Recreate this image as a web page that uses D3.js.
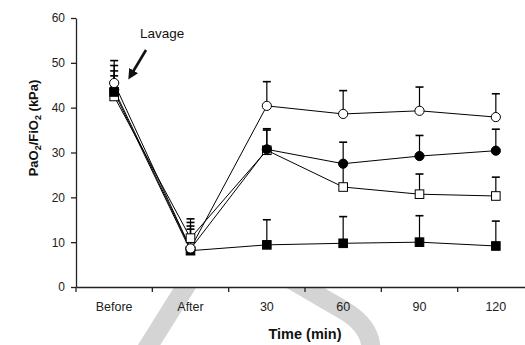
<!DOCTYPE html>
<html>
<head>
<meta charset="utf-8">
<script src="https://cdn.jsdelivr.net/npm/d3@7"></script>
<style>
  body { margin: 0; background: #fff; }
  svg { display: block; font-family: "Liberation Sans", Arial, sans-serif; }
  .axis path, .axis line { stroke: #222; stroke-width: 1.3; }
  .axis text { fill: #222; }
</style>
</head>
<body>
<div id="target"></div>
<script>
const width = 525;
const height = 345;
const margin = { top: 18, right: -9, bottom: 58, left: 76 };

// categories and values
const categories = ['Before', 'After', '30', '60', '90', '120'];
const yTicks = [0, 10, 20, 30, 40, 50, 60];

const openCircle = [45.5, 8.6, 40.4, 38.6, 39.3, 37.9];
const openCircleErr = [50.5, 14.4, 45.8, 43.8, 44.6, 43.1];
const filledCircle = [44.0, 8.5, 30.7, 27.5, 29.2, 30.4];
const filledCircleErr = [49.4, 13.6, 35.3, 32.3, 33.8, 35.2];
const openSquare = [42.5, 10.9, 30.5, 22.3, 20.7, 20.3];
const openSquareErr = [47.1, 15.2, 35.0, 27.4, 25.2, 24.5];
const filledSquare = [43.5, 8.1, 9.4, 9.75, 10.0, 9.15];
const filledSquareErr = [48.2, 12.9, 15.0, 15.7, 15.9, 14.7];

// draw order: bottom first
const series = [
  { name: 'openSquare', shape: 'square', fill: '#fff', values: openSquare, err: openSquareErr },
  { name: 'filledSquare', shape: 'square', fill: '#000', values: filledSquare, err: filledSquareErr },
  { name: 'filledCircle', shape: 'circle', fill: '#000', values: filledCircle, err: filledCircleErr },
  { name: 'openCircle', shape: 'circle', fill: '#fff', values: openCircle, err: openCircleErr }
];

const svg = d3.select('#target')
  .append('svg')
  .attr('width', width)
  .attr('height', height);

// faint watermark showing below the axis
const clip = svg.append('clipPath').attr('id', 'wm');
clip.append('rect').attr('x', 0).attr('y', 288).attr('width', width).attr('height', 60);
const wm = svg.append('g').attr('clip-path', 'url(#wm)')
  .attr('fill', 'none').attr('stroke', '#d4d4d4').attr('stroke-width', 19);
wm.append('path').attr('d', 'M196,270 L146,350');
wm.append('path').attr('d', 'M278,272 L345,311 Q371,327 371,350').attr('stroke-width', 19);

const x = d3.scaleBand()
  .domain(categories)
  .range([margin.left, width - margin.right]);

const y = d3.scaleLinear()
  .domain([0, 60])
  .range([height - margin.bottom, margin.top]);

const cx = (i) => x(categories[i]) + x.bandwidth() / 2;

// axes
svg.append('g')
  .attr('class', 'axis')
  .attr('transform', `translate(0,${y(0)})`)
  .call(d3.axisBottom(x).tickSize(0).tickPadding(15).tickSizeOuter(0))
  .selectAll('text')
  .attr('font-size', 12.5);

svg.append('g')
  .attr('class', 'axis')
  .selectAll('line')
  .data(categories)
  .enter()
  .append('line')
  .attr('x1', (d) => x(d))
  .attr('x2', (d) => x(d))
  .attr('y1', y(0))
  .attr('y2', y(0) + 5);

svg.append('g')
  .attr('class', 'axis')
  .attr('transform', `translate(${margin.left},0)`)
  .call(d3.axisLeft(y).tickValues(yTicks).tickSize(5).tickPadding(6).tickSizeOuter(0))
  .selectAll('text')
  .attr('font-size', 12);

// connecting lines
const line = d3.line()
  .x((d, i) => cx(i))
  .y((d) => y(d));

const plot = svg.append('g');

series.forEach((s) => {
  plot.append('path')
    .datum(s.values)
    .attr('fill', 'none')
    .attr('stroke', '#000')
    .attr('stroke-width', 1)
    .attr('d', line);
});

// error bars (upper only)
series.forEach((s) => {
  const eb = plot.append('g').attr('stroke', '#000');
  eb.selectAll('.stem')
    .data(s.values)
    .enter()
    .append('line')
    .attr('stroke-width', 1.2)
    .attr('x1', (d, i) => cx(i))
    .attr('x2', (d, i) => cx(i))
    .attr('y1', (d) => y(d))
    .attr('y2', (d, i) => y(s.err[i]));
  eb.selectAll('.cap')
    .data(s.err)
    .enter()
    .append('line')
    .attr('stroke-width', 1.6)
    .attr('x1', (d, i) => cx(i) - 4)
    .attr('x2', (d, i) => cx(i) + 4)
    .attr('y1', (d) => y(d))
    .attr('y2', (d) => y(d));
});

// markers
series.forEach((s) => {
  const mk = plot.append('g');
  if (s.shape === 'circle') {
    mk.selectAll('circle')
      .data(s.values)
      .enter()
      .append('circle')
      .attr('cx', (d, i) => cx(i))
      .attr('cy', (d) => y(d))
      .attr('r', 4.6)
      .attr('fill', s.fill)
      .attr('stroke', '#000')
      .attr('stroke-width', 1);
  } else {
    const side = 8.6;
    mk.selectAll('rect')
      .data(s.values)
      .enter()
      .append('rect')
      .attr('x', (d, i) => cx(i) - side / 2)
      .attr('y', (d) => y(d) - side / 2)
      .attr('width', side)
      .attr('height', side)
      .attr('fill', s.fill)
      .attr('stroke', '#000')
      .attr('stroke-width', 1);
  }
});

// lavage annotation
svg.append('text')
  .attr('x', 140)
  .attr('y', 38)
  .attr('font-size', 13.5)
  .attr('fill', '#111')
  .text('Lavage');

svg.append('defs').append('marker')
  .attr('id', 'arrow')
  .attr('viewBox', '0 0 10 10')
  .attr('refX', 5)
  .attr('refY', 5)
  .attr('markerWidth', 4)
  .attr('markerHeight', 4)
  .attr('orient', 'auto')
  .append('path')
  .attr('d', 'M0,0 L10,5 L0,10 z')
  .attr('fill', '#111');

svg.append('line')
  .attr('x1', 146)
  .attr('y1', 50)
  .attr('x2', 131)
  .attr('y2', 75)
  .attr('stroke', '#111')
  .attr('stroke-width', 2.6)
  .attr('marker-end', 'url(#arrow)');

// axis titles
svg.append('text')
  .attr('x', (margin.left + width - margin.right) / 2)
  .attr('y', 339)
  .attr('text-anchor', 'middle')
  .attr('font-size', 14.5)
  .attr('font-weight', 'bold')
  .attr('fill', '#111')
  .text('Time (min)');

const yTitle = svg.append('text')
  .attr('transform', 'translate(38,128) rotate(-90)')
  .attr('text-anchor', 'middle')
  .attr('font-size', 13)
  .attr('font-weight', 'bold')
  .attr('fill', '#111');
yTitle.append('tspan').text('PaO');
yTitle.append('tspan').attr('font-size', 9).attr('dy', 3).text('2');
yTitle.append('tspan').attr('dy', -3).text('/FiO');
yTitle.append('tspan').attr('font-size', 9).attr('dy', 3).text('2');
yTitle.append('tspan').attr('dy', -3).text(' (kPa)');
</script>
</body>
</html>
